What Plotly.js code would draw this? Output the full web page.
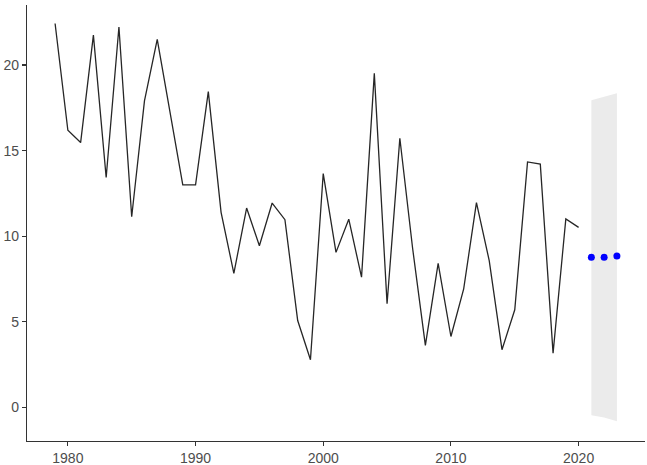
<!DOCTYPE html>
<html>
<head>
<meta charset="utf-8">
<script src="https://cdn.plot.ly/plotly-3.0.1.min.js"></script>
<style>html,body{margin:0;padding:0;background:#fff;}#chart{width:647px;height:465px;}</style>
</head>
<body>
<div id="chart"></div>
<script>
const years = [1979,1980,1981,1982,1983,1984,1985,1986,1987,1988,1989,1990,1991,1992,1993,1994,1995,1996,1997,1998,1999,2000,2001,2002,2003,2004,2005,2006,2007,2008,2009,2010,2011,2012,2013,2014,2015,2016,2017,2018,2019,2020];
const values = [22.42,16.19,15.47,21.74,13.43,22.22,11.14,17.9,21.49,17.3,13.0,13.0,18.44,11.4,7.84,11.65,9.45,11.94,10.97,5.08,2.79,13.66,9.06,11.0,7.61,19.51,6.06,15.72,9.3,3.63,8.42,4.15,6.93,11.97,8.58,3.38,5.71,14.34,14.21,3.18,11.01,10.52];
const forecastYears = [2021,2022,2023];
const forecastValues = [8.77,8.77,8.85];
const forecastUpper = [17.94,18.15,18.35];
const forecastLower = [-0.45,-0.58,-0.8];
const xTicks = [1980,1990,2000,2010,2020];
const yTicks = [0,5,10,15,20];

const ribbonX = forecastYears.concat(forecastYears.slice().reverse());
const ribbonY = forecastUpper.concat(forecastLower.slice().reverse());

const traces = [
  {x: ribbonX, y: ribbonY, type:'scatter', mode:'lines', fill:'toself',
   fillcolor:'#ebebeb', line:{width:0, color:'rgba(0,0,0,0)'}, hoverinfo:'skip'},
  {x: years, y: values, type:'scatter', mode:'lines', line:{color:'#262626', width:1.3}},
  {x: forecastYears, y: forecastValues, type:'scatter', mode:'markers',
   marker:{color:'#0000ff', size:7}}
];

const axisCommon = {
  showgrid:false, zeroline:false, showline:true, linecolor:'#333333', linewidth:1.1,
  ticks:'outside', ticklen:4, tickcolor:'#333333', tickwidth:1.1,
  tickfont:{family:'Liberation Sans, Arial, sans-serif', size:14, color:'#4d4d4d'}
};

const layout = {
  width:647, height:465,
  margin:{l:27, r:2, t:5, b:24},
  paper_bgcolor:'#ffffff', plot_bgcolor:'#ffffff',
  showlegend:false,
  xaxis: Object.assign({}, axisCommon, {range:[1976.8,2025.2], tickvals:xTicks, ticktext:xTicks.map(String)}),
  yaxis: Object.assign({}, axisCommon, {range:[-1.95,23.5], tickvals:yTicks, ticktext:yTicks.map(String)})
};

Plotly.newPlot('chart', traces, layout, {displayModeBar:false, staticPlot:true});
</script>
</body>
</html>
